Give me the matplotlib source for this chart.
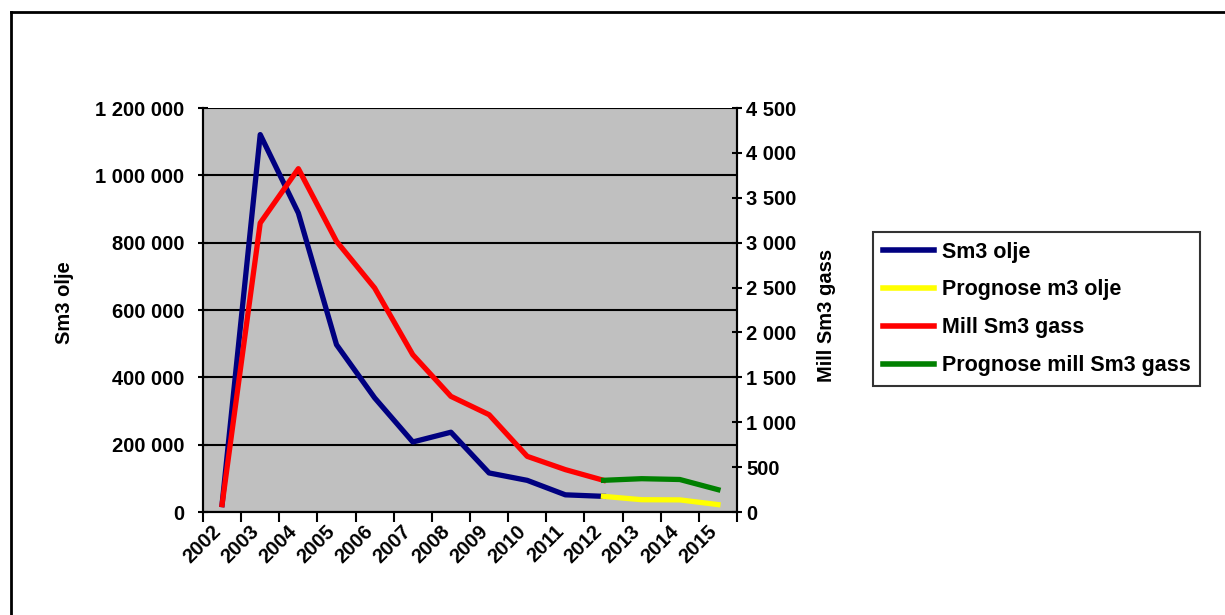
import matplotlib
matplotlib.use("Agg")
import matplotlib.pyplot as plt
from matplotlib.lines import Line2D
from matplotlib.ticker import FixedLocator, FuncFormatter
import matplotlib.transforms as mtransforms

years = ["2002", "2003", "2004", "2005", "2006", "2007", "2008",
         "2009", "2010", "2011", "2012", "2013", "2014", "2015"]

# Oil (left axis), Sm3
olje_years = years[:11]
olje = [22000, 1121000, 888000, 497000, 339000, 208000, 237000,
        116000, 94000, 51000, 46500]
prognose_olje_years = years[10:]
prognose_olje = [46500, 36500, 36000, 22000]

# Gas (right axis), mill Sm3
gass_years = years[:11]
gass = [82, 3219, 3824, 3015, 2495, 1752, 1288, 1084, 620, 472, 353]
prognose_gass_years = years[10:]
prognose_gass = [353, 371, 362, 249]

W, H = 1225, 615
fig = plt.figure(figsize=(W / 100, H / 100), dpi=100)
plt.rcParams['font.family'] = ['Liberation Sans', 'DejaVu Sans']
FS = 14.5

L, R, T, B = 203, 737, 108, 512
ax = fig.add_axes([L / W, 1 - B / H, (R - L) / W, (B - T) / H])
ax2 = ax.twinx()

pos = {y: i + 0.5 for i, y in enumerate(years)}

ax.set_facecolor('#C0C0C0')
ax.set_zorder(1)
ax2.set_zorder(2)
ax2.patch.set_visible(False)

lw = 3.8
ax.plot([pos[y] for y in olje_years], olje, color='#000080', lw=lw, zorder=3)
ax.plot([pos[y] for y in prognose_olje_years], prognose_olje, color='#FFFF00',
        lw=lw, zorder=3)
ax2.plot([pos[y] for y in gass_years], gass, color='#FF0000', lw=lw, zorder=3)
ax2.plot([pos[y] for y in prognose_gass_years], prognose_gass, color='#008000',
         lw=lw, zorder=3)

ax.set_xlim(0, len(years))
ax.set_ylim(0, 1200000)
ax2.set_ylim(0, 4500)

ax.set_yticks(range(0, 1200001, 200000))
ax2.set_yticks(range(0, 4501, 500))
fmt = FuncFormatter(lambda v, p: f"{v:,.0f}".replace(',', ' '))
ax.yaxis.set_major_formatter(fmt)
ax2.yaxis.set_major_formatter(fmt)
ax.yaxis.grid(True, color='black', lw=1.5)
ax.set_axisbelow(True)

ax.xaxis.set_major_locator(FixedLocator(range(len(years) + 1)))
ax.xaxis.set_major_formatter(FuncFormatter(lambda v, p: ''))
ax.set_xticks([pos[y] for y in years], minor=True)
ax.set_xticklabels(years, minor=True, rotation=45, ha='right',
                   rotation_mode='anchor', fontsize=FS, fontweight='bold')
ax.tick_params(axis='x', which='minor', length=0, pad=7)
ax.tick_params(axis='x', which='major', length=7, width=1.5, direction='out')
ax.tick_params(axis='y', length=7, width=1.5, direction='inout', pad=10,
               labelsize=FS)
ax2.tick_params(axis='y', length=7, width=1.5, direction='inout', pad=3,
                labelsize=FS)
for t in ax.get_yticklabels() + ax2.get_yticklabels():
    t.set_fontweight('bold')

offset = mtransforms.ScaledTranslation(-11 / 100, 0, fig.dpi_scale_trans)
for t in ax.get_xticklabels(minor=True):
    t.set_transform(t.get_transform() + offset)

for a in (ax, ax2):
    for s in a.spines.values():
        s.set_linewidth(1.5)
        s.set_color('black')
    a.spines['top'].set_visible(False)

fig.text(65 / W, 1 - 303 / H, 'Sm3 olje', rotation=90, ha='center', va='center',
         fontsize=FS, fontweight='bold')
fig.text(827 / W, 1 - 315 / H, 'Mill Sm3 gass', rotation=90, ha='center',
         va='center', fontsize=FS, fontweight='bold')

handles = [Line2D([], [], color=c, lw=4) for c in
           ['#000080', '#FFFF00', '#FF0000', '#008000']]
labels = ['Sm3 olje', 'Prognose m3 olje', 'Mill Sm3 gass', 'Prognose mill Sm3 gass']
leg = fig.legend(handles, labels, loc='upper left',
                 bbox_to_anchor=(873 / W, 1 - 232 / H), frameon=True,
                 fancybox=False, edgecolor='black', borderaxespad=0,
                 prop={'size': 15.5, 'weight': 'bold'}, handlelength=2.4,
                 handletextpad=0.35, labelspacing=0.78, borderpad=0.45)
leg.get_frame().set_linewidth(1.5)

# outer chart border (cut off at right and bottom)
fig.add_artist(Line2D([11 / W, 11 / W], [0, 1 - 12 / H], color='black', lw=2,
                      transform=fig.transFigure))
fig.add_artist(Line2D([11 / W, 1], [1 - 12 / H, 1 - 12 / H], color='black',
                      lw=2, transform=fig.transFigure))

fig.savefig('out.png', dpi=100)
